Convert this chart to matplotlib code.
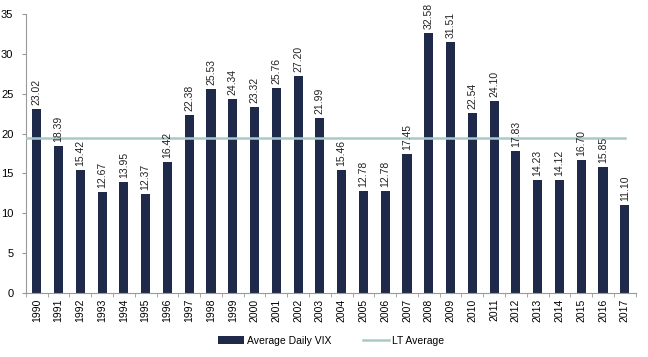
import matplotlib
matplotlib.use("Agg")
import matplotlib.pyplot as plt
import numpy as np

plt.rcParams['font.family'] = ['Liberation Sans', 'DejaVu Sans']

years = [str(y) for y in range(1990, 2018)]
vix = [23.02, 18.39, 15.42, 12.67, 13.95, 12.37, 16.42, 22.38, 25.53, 24.34,
       23.32, 25.76, 27.20, 21.99, 15.46, 12.78, 12.78, 17.45, 32.58, 31.51,
       22.54, 24.10, 17.83, 14.23, 14.12, 16.70, 15.85, 11.10]
lt_average = 19.4

bar_color = '#1f2a4b'
line_color = '#a9c9c9'

fig = plt.figure(figsize=(6.48, 3.57), dpi=100)
ax = fig.add_axes([0.040, 0.179, 0.941, 0.782])

x = np.arange(len(years))
bars = ax.bar(x, vix, width=0.42, color=bar_color, label='Average Daily VIX', zorder=2)
line, = ax.plot([x[0] - 0.5, x[-1]], [lt_average, lt_average], color=line_color, lw=1.8,
                label='LT Average', zorder=3)

for xi, v in zip(x, vix):
    ax.text(xi, v + 0.5, f'{v:.2f}', rotation=90, ha='center', va='bottom',
            fontsize=7.5, color='#222222')

ax.set_xlim(-0.5, len(years) - 0.5)
ax.set_ylim(0, 35)
ax.set_yticks(range(0, 36, 5))
ax.set_xticks(x)
ax.set_xticklabels(years, rotation=90, fontsize=7.5)
ax.tick_params(axis='y', labelsize=8, length=3, color='#999999', pad=6)
ax.tick_params(axis='x', length=0, pad=4)
ax.set_xticks(np.arange(-0.5, len(years), 1), minor=True)
ax.tick_params(axis='x', which='minor', length=3, color='#999999')

for s in ['top', 'right']:
    ax.spines[s].set_visible(False)
for s in ['left', 'bottom']:
    ax.spines[s].set_color('#999999')
    ax.spines[s].set_linewidth(0.8)

ax.legend(handles=[bars, line], loc='center', bbox_to_anchor=(0.5, -0.17), ncol=2,
          frameon=False, fontsize=7.5, handlelength=2.5, columnspacing=3,
          handletextpad=0.3)

fig.savefig('out.png', dpi=100)
